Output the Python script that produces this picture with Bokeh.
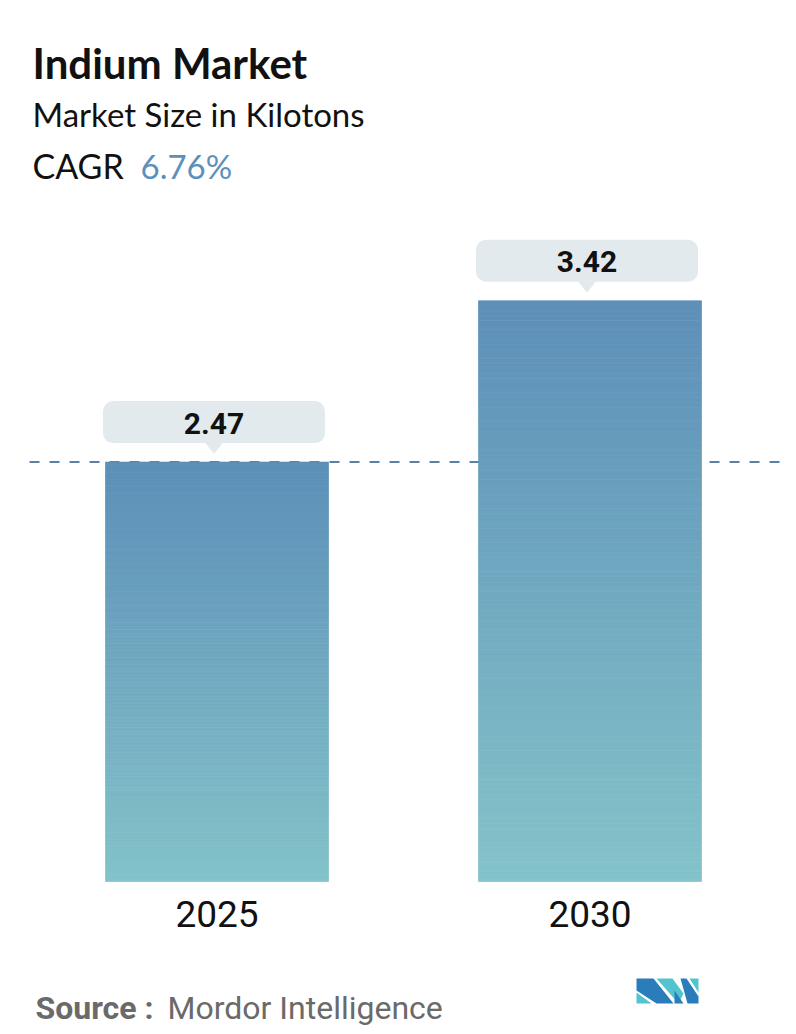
import numpy as np
from bokeh.plotting import figure
from bokeh.models import Range1d, Label
from bokeh.core.properties import value
from bokeh.embed import file_html
from bokeh.resources import INLINE

# ---- data ----
title = "Indium Market"
subtitle = "Market Size in Kilotons"
cagr_label = "CAGR"
cagr_value = "6.76%"
years = ["2025", "2030"]
values = [2.47, 3.42]
source_label = "Source :"
source_name = "Mordor Intelligence"

# ---- layout helpers (pixel geometry -> data units) ----
W, H = 788, 1026
M = 0            # offset of the figure within the photographed page
PX_X = 373.0     # px per category step
PX_Y = 169.8     # px per kiloton
X0_PX = 216.5    # figure px of first category centre
BASE_PX = H - 881.0  # px from bottom of figure to baseline

x_start = -X0_PX / PX_X
x_end = (W - X0_PX) / PX_X
y_start = -BASE_PX / PX_Y
y_end = (H - BASE_PX) / PX_Y

def dx(px):
    return px / PX_X

def dy(px):
    return px / PX_Y

def rx(px_ref):  # reference page x -> data x
    return (px_ref - M - X0_PX) / PX_X

def ry(py_ref):  # reference page y -> data y
    return ((H - (py_ref - M)) - BASE_PX) / PX_Y

p = figure(width=W, height=H, output_backend="svg", toolbar_location=None,
           x_range=Range1d(x_start, x_end), y_range=Range1d(y_start, y_end),
           x_axis_location=None, y_axis_location=None,
           min_border=0, min_border_left=0, min_border_right=0,
           min_border_top=0, min_border_bottom=0)
p.outline_line_color = None
p.grid.visible = False
p.background_fill_color = "white"
p.border_fill_color = "white"

xs = np.arange(len(values))
vals = np.array(values)

# dashed reference line at first value
p.segment(x0=[rx(29)], x1=[rx(782)], y0=[values[0]], y1=[values[0]],
          line_color="#5a80a8", line_width=2, line_dash="10 10")

# gradient bars
hw = dx(223) / 2
N = 120
top_rgb = np.array([0x5d, 0x8f, 0xb8], dtype=float)
bot_rgb = np.array([0x83, 0xc3, 0xc9], dtype=float)
for i, v in enumerate(values):
    k = np.arange(N)
    b = v * k / N
    t = v * (k + 1) / N
    frac = (k + 0.5) / N
    cols = ["#%02x%02x%02x" % tuple(int(round(c)) for c in (bot_rgb + (top_rgb - bot_rgb) * f)) for f in frac]
    p.quad(left=xs[i] - hw, right=xs[i] + hw, bottom=b, top=t,
           fill_color=cols, line_color=cols, line_width=0.7)

# value bubbles
bw = dx(222) / 2
off = dx(3)
p.quad(left=xs - bw - off, right=xs + bw - off, bottom=vals + dy(19), top=vals + dy(61),
       fill_color="#e2eaee", line_color=None, border_radius=10)
p.patches(xs=[[c - off - dx(9), c - off + dx(9), c - off] for c in xs],
          ys=[[v + dy(19.5), v + dy(19.5), v + dy(8)] for v in vals],
          fill_color="#e2eaee", line_color=None)
p.text(x=xs - off, y=vals + dy(39), text=[f"{v:.2f}" for v in values],
       text_align="center", text_baseline="middle",
       text_font=value("Roboto"), text_font_style="bold",
       text_font_size="30px", text_color="#111111")

# year labels
p.text(x=xs, y=[dy(-32)] * len(xs), text=years,
       text_align="center", text_baseline="middle",
       text_font=value("Roboto"), text_font_size="37px",
       text_color="#111111")

# header
p.add_layout(Label(x=rx(32), y=ry(62), text=title, text_baseline="alphabetic",
                   text_font="Lato", text_font_style="bold", text_font_size="42px",
                   text_color="#111111"))
p.add_layout(Label(x=rx(32), y=ry(113), text=subtitle, text_baseline="alphabetic",
                   text_font="Lato", text_font_size="33px", text_color="#111111"))
p.add_layout(Label(x=rx(32), y=ry(165), text=cagr_label, text_baseline="alphabetic",
                   text_font="Lato", text_font_size="34px", text_color="#111111"))
p.add_layout(Label(x=rx(140), y=ry(165), text=cagr_value, text_baseline="alphabetic",
                   text_font="Lato", text_font_size="33px", text_color="#5b8fbc"))

# source
p.add_layout(Label(x=rx(35), y=ry(1007), text=source_label, text_baseline="alphabetic",
                   text_font="Roboto", text_font_style="bold",
                   text_font_size="32px", text_color="#6a6a6a"))
p.add_layout(Label(x=rx(167), y=ry(1007), text=source_name, text_baseline="alphabetic",
                   text_font="Roboto", text_font_size="32px",
                   text_color="#6a6a6a"))

# logo (decoration)
dark, teal = "#2a7cba", "#52c4cf"
logo_polys = [
    ([(636, 978), (653, 978), (673, 1003), (656, 1003), (636, 990)], dark),
    ([(636, 992), (636, 1003), (651, 1003)], teal),
    ([(656, 978), (672, 978), (683, 993), (678, 1003)], teal),
    ([(674, 990), (683, 1003), (674, 1003)], dark),
    ([(680, 978), (686, 978), (698, 996), (698, 1003), (687, 1003)], dark),
    ([(689, 978), (698, 978), (698, 992)], teal),
]
p.patches(xs=[[rx(a) for a, _ in pts] for pts, _ in logo_polys],
          ys=[[ry(b) for _, b in pts] for pts, _ in logo_polys],
          fill_color=[c for _, c in logo_polys], line_color=None)

open("out.html", "w").write(file_html(p, INLINE))
